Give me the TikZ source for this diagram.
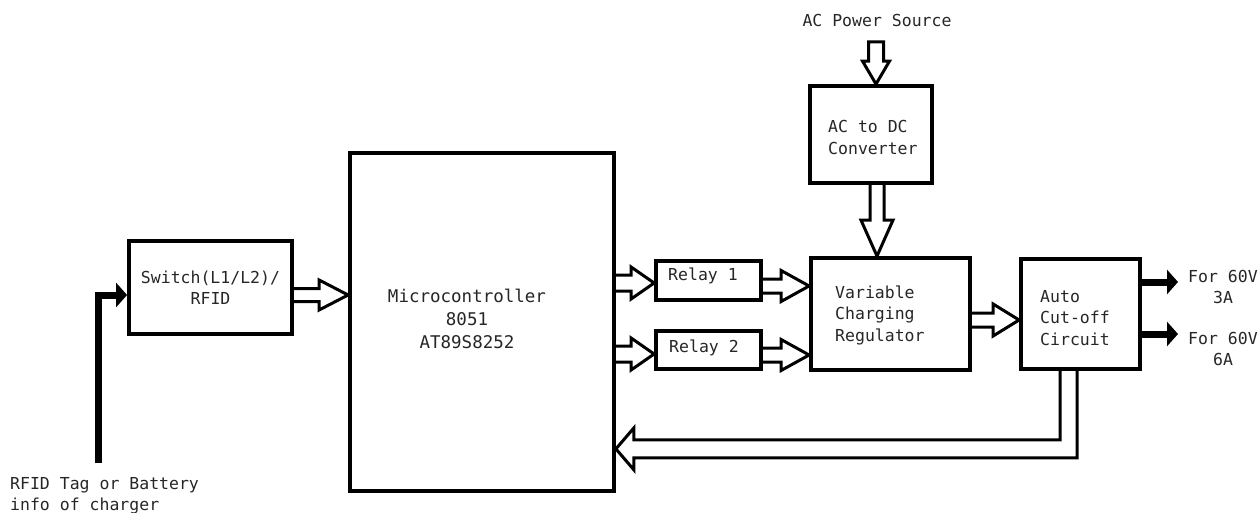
\documentclass[tikz,border=0pt]{standalone}
\usepackage{fontspec}
\newfontfamily\dmono{DejaVu Sans Mono}
\usetikzlibrary{arrows.meta,calc}
\newcommand\hArrowR[5]{%
  \draw[hollow] let \p1=(#1), \p2=(#2) in
    (\x1,\y1+#3) -- (\x2-#5,\y1+#3) -- (\x2-#5,\y1+#4) -- (\x2,\y1)
    -- (\x2-#5,\y1-#4) -- (\x2-#5,\y1-#3) -- (\x1,\y1-#3);}
\newcommand\hArrowD[6]{%
  \draw[hollow] let \p1=(#1), \p2=(#2) in
    (\x1-#3,\y1) -- (\x1-#3,\y2+#5) -- (\x1-#4,\y2+#5) -- (\x1,\y2)
    -- (\x1+#4,\y2+#5) -- (\x1+#3,\y2+#5) -- (\x1+#3,\y1) #6;}
\begin{document}
\begin{tikzpicture}[x=1pt,y=-1pt,
  every node/.style={font=\dmono\fontsize{16.5}{21.5}\selectfont,text=black!85,inner sep=0pt},
  box/.style={draw=black,line width=3.8pt},
  hollow/.style={draw=black,line width=3pt,line join=miter},
  fat/.style={draw=black,line width=7pt,-{Triangle[width=24pt,length=11pt]}},
  lbl/.style={align=left,anchor=west}]
\useasboundingbox (0,0) rectangle (1260,513);
% boxes
\node[box,minimum width=163pt,minimum height=93pt,align=center] (sw) at (210.5,287.5) {Switch(L1/L2)/\\RFID};
\node[box,minimum width=264pt,minimum height=338pt] (mc) at (482,322) {};
\node[box,minimum width=122pt,minimum height=97pt] (adc) at (871,134.5) {};
\node[box,minimum width=105pt,minimum height=39pt] (r1) at (708.5,280.5) {};
\node[box,minimum width=105pt,minimum height=38pt] (r2) at (708.5,350) {};
\node[box,minimum width=159pt,minimum height=112pt] (vcr) at (890.5,314) {};
\node[box,minimum width=119pt,minimum height=110pt] (ac) at (1080.5,314) {};
% texts
\node[align=center,font=\dmono\fontsize{17.5}{23}\selectfont] (mcT) at (467,319) {Microcontroller\\8051\\AT89S8252};
\node[lbl] (adcT) at (828,137.5) {AC to DC\\Converter};
\node[lbl] (r1T) at (668,276) {Relay 1};
\node[lbl] (r2T) at (669,348) {Relay 2};
\node[lbl] (vcrT) at (835,315) {Variable\\Charging\\Regulator};
\node[lbl] (acT) at (1040,318) {Auto\\Cut-off\\Circuit};
\node (src) at (877,20) {AC Power Source};
\node[align=center] (o1T) at (1223,287) {For 60V\\3A};
\node[align=center] (o2T) at (1223,349) {For 60V\\6A};
\node[align=left,anchor=west] (rfT) at (10,496) {RFID Tag or Battery\\info of charger};
% hollow arrows
\hArrowR{$(sw.east)+(0,7.5)$}{mc.west}{6.5pt}{15pt}{29pt}
\hArrowR{$(mc.east|-r1.west)+(0,2.5)$}{r1.west}{8pt}{16pt}{23pt}
\hArrowR{$(mc.east|-r2.west)+(0,4)$}{r2.west}{8pt}{16pt}{23pt}
\hArrowR{$(r1.east)+(0,5.5)$}{vcr.west}{7pt}{15.5pt}{28pt}
\hArrowR{$(r2.east)+(0,5)$}{vcr.west}{7pt}{15.5pt}{28pt}
\hArrowR{$(vcr.east)+(0,6)$}{ac.west}{7pt}{16pt}{26pt}
\coordinate (acin) at (876,42);
\hArrowD{acin}{adc.north}{7.5pt}{13.5pt}{23pt}{-- cycle}
\hArrowD{$(adc.south)+(6,0)$}{vcr.north}{7pt}{16pt}{36pt}{}
% feedback arrow
\draw[hollow] let \p1=(ac.south), \p2=(mc.east) in
  (\x1-20.5pt,\y1) -- (\x1-20.5pt,\y1-69pt) -- (\x2+18pt,\y1-69pt) -- (\x2+18pt,\y1-57pt)
  -- (\x2,\y1-78pt) -- (\x2+18pt,\y1-99pt) -- (\x2+18pt,\y1-87pt) -- (\x1-3.5pt,\y1-87pt)
  -- (\x1-3.5pt,\y1);
% solid arrows
\coordinate (rfin) at (98,463);
\draw[fat] (rfin) |- ($(sw.west)+(0,7.5)$);
\coordinate (o1) at (1178,282);
\coordinate (o2) at (1178,334);
\draw[fat] (ac.east|-o1) -- (o1);
\draw[fat] (ac.east|-o2) -- (o2);
\end{tikzpicture}
\end{document}
